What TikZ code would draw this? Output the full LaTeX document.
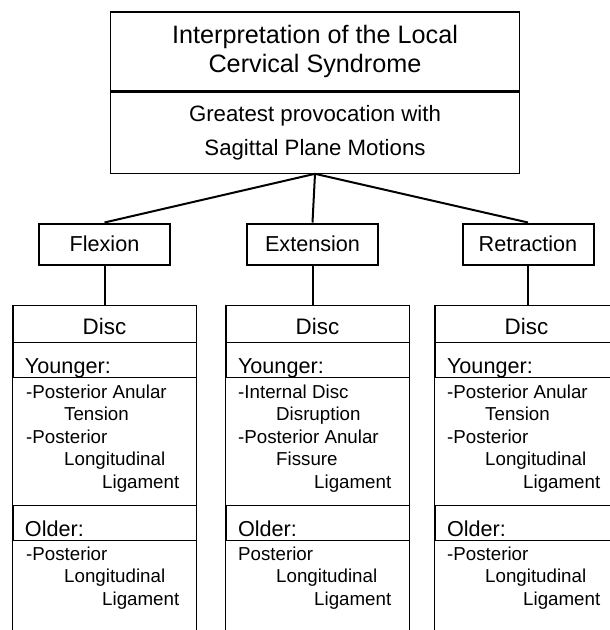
\documentclass[tikz,border=0pt]{standalone}
\usepackage{fontspec}
\setmainfont{Liberation Sans}
\usetikzlibrary{positioning}
\newcommand{\indI}{\hspace*{38bp}}
\newcommand{\indII}{\hspace*{76bp}}
\tikzset{
  topbox/.style={draw, line width=1.2bp, minimum width=409bp, align=center, inner sep=0pt},
  movebox/.style={draw, line width=2bp, minimum width=131bp, minimum height=41bp, inner sep=0pt,
    font=\fontsize{21.7}{26}\selectfont},
  link/.style={line width=2bp},
  discbox/.style={draw, line width=0.8bp, text width=183bp, align=center, inner xsep=0pt, inner ysep=2bp,
    text height=27bp, text depth=6bp, font=\fontsize{22.5}{27}\selectfont},
  agebox/.style={draw, line width=0.8bp, text width=159bp, inner xsep=12bp, inner ysep=2bp, align=left,
    text height=29bp, text depth=2bp, font=\fontsize{21.7}{26}\selectfont},
  listtext/.style={align=left, inner sep=0pt, anchor=base west, font=\fontsize{18.8}{22.5}\selectfont},
  colline/.style={line width=0.8bp}
}
\begin{document}
\begin{tikzpicture}[x=1bp, y=-1bp]
  \clip (0,0) rectangle (610,630);
  % heading
  \node[topbox, minimum height=79bp, font=\fontsize{25.3}{30}\selectfont] (title) at (315,51.5)
    {Interpretation of the Local\\Cervical Syndrome};
  \node[topbox, minimum height=81bp, below=0pt of title, font=\fontsize{22.3}{34}\selectfont] (motion)
    {Greatest provocation with\\Sagittal Plane Motions};
  % motions
  \node[movebox] (flexion) at (104.5,244) {Flexion};
  \node[movebox] (extension) at (312.5,244) {Extension};
  \node[movebox] (retraction) at (528,244) {Retraction};
  \draw[link] (motion.south) -- (flexion.north);
  \draw[link] (motion.south) -- (extension.north);
  \draw[link] (motion.south) -- (retraction.north);

  % flexion column (list nodes sit on their last line)
  \node[discbox] (discA) at (104.5,323.5) {Disc\hspace*{22bp}};
  \node[agebox, below=0pt of discA] (youngA) {Younger:};
  \node[listtext] (listYA) at (26,488)
    {-Posterior Anular\\\indI Tension\\-Posterior\\\indI Longitudinal\\\indII Ligament};
  \node[agebox] (oldA) at (104.5,523) {Older:};
  \node[listtext] (listOA) at (26,605) {-Posterior\\\indI Longitudinal\\\indII Ligament};
  \draw[colline] (discA.north west) -- ++(0,340) (discA.north east) -- ++(0,340);
  \draw[link] (flexion.south) -- (flexion.south |- discA.north);

  % extension column
  \node[discbox] (discB) at (317.5,323.5) {Disc\hspace*{22bp}};
  \node[agebox, below=0pt of discB] (youngB) {Younger:};
  \node[listtext] (listYB) at (238,488)
    {-Internal Disc\\\indI Disruption\\-Posterior Anular\\\indI Fissure\\\indII Ligament};
  \node[agebox] (oldB) at (317.5,523) {Older:};
  \node[listtext] (listOB) at (238,605) {Posterior\\\indI Longitudinal\\\indII Ligament};
  \draw[colline] (discB.north west) -- ++(0,340) (discB.north east) -- ++(0,340);
  \draw[link] (extension.south) -- (extension.south |- discB.north);

  % retraction column
  \node[discbox] (discC) at (526.5,323.5) {Disc\hspace*{22bp}};
  \node[agebox, below=0pt of discC] (youngC) {Younger:};
  \node[listtext] (listYC) at (447,488)
    {-Posterior Anular\\\indI Tension\\-Posterior\\\indI Longitudinal\\\indII Ligament};
  \node[agebox] (oldC) at (526.5,523) {Older:};
  \node[listtext] (listOC) at (447,605) {-Posterior\\\indI Longitudinal\\\indII Ligament};
  \draw[colline] (discC.north west) -- ++(0,340) (discC.north east) -- ++(0,340);
  \draw[link] (retraction.south) -- (retraction.south |- discC.north);
\end{tikzpicture}
\end{document}
